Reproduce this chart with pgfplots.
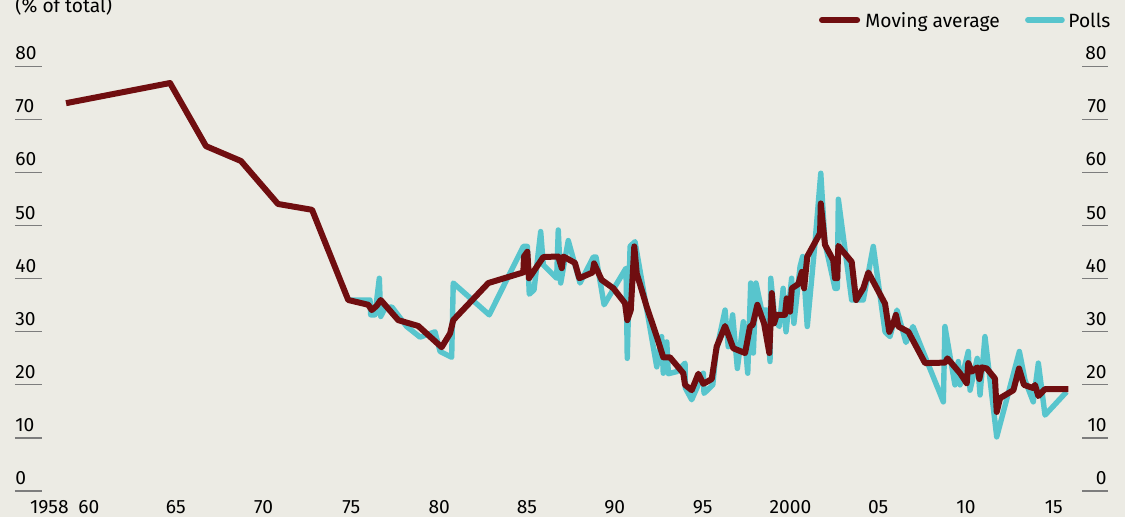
\documentclass[border=0pt]{standalone}
\usepackage{fontspec}
\setmainfont{Fira Sans}
\usepackage{pgfplots}
\pgfplotsset{compat=1.18}
\definecolor{bg}{RGB}{236,235,228}
\definecolor{ma}{RGB}{112,14,16}
\definecolor{polls}{RGB}{88,197,205}
\definecolor{tickgray}{RGB}{125,125,125}
\begin{document}
\begin{tikzpicture}[font=\fontsize{9.6}{11}\selectfont]
\begin{axis}[scale only axis, width=562.5pt, height=258.5pt,
  xmin=1954.989, xmax=2019.055, ymin=-4.901, ymax=92.55,
  axis lines=none, clip=false]
\fill[bg] (rel axis cs:0,0) rectangle (rel axis cs:1,1);
\pgfplotsinvokeforeach{0,10,20,30,40,50,60,70,80}{
  \draw[tickgray, line width=0.6pt] (axis cs:1955.84,#1) -- (axis cs:1957.38,#1);
  \draw[tickgray, line width=0.6pt] (axis cs:2016.61,#1) -- (axis cs:2018.09,#1);
  \node[anchor=base west, inner sep=0pt, yshift=3.35pt] at (axis cs:1955.84,#1) {#1};
  \node[anchor=base east, inner sep=0pt, yshift=3.35pt] at (axis cs:2018.03,#1) {#1};
}
\node[anchor=base, inner sep=0pt] at (axis cs:1957.80,-4.15) {1958};
\node[anchor=base, inner sep=0pt] at (axis cs:1960.05,-4.15) {60};
\node[anchor=base, inner sep=0pt] at (axis cs:1965,-4.15) {65};
\node[anchor=base, inner sep=0pt] at (axis cs:1970,-4.15) {70};
\node[anchor=base, inner sep=0pt] at (axis cs:1975,-4.15) {75};
\node[anchor=base, inner sep=0pt] at (axis cs:1980,-4.15) {80};
\node[anchor=base, inner sep=0pt] at (axis cs:1985,-4.15) {85};
\node[anchor=base, inner sep=0pt] at (axis cs:1990,-4.15) {90};
\node[anchor=base, inner sep=0pt] at (axis cs:1995,-4.15) {95};
\node[anchor=base, inner sep=0pt] at (axis cs:2000,-4.15) {2000};
\node[anchor=base, inner sep=0pt] at (axis cs:2005,-4.15) {05};
\node[anchor=base, inner sep=0pt] at (axis cs:2010,-4.15) {10};
\node[anchor=base, inner sep=0pt] at (axis cs:2015,-4.15) {15};
\node[anchor=base west, inner sep=0pt] at (axis cs:1955.84,90.1) {(\% of total)};
% legend
\draw[ma, line width=3pt, line cap=round] (axis cs:2001.80,88.78) -- (axis cs:2003.80,88.78);
\node[anchor=base west, inner sep=0pt] at (axis cs:2004.25,87.41) {Moving average};
\draw[polls, line width=2.7pt, line cap=round] (axis cs:2013.52,88.78) -- (axis cs:2015.47,88.78);
\node[anchor=base west, inner sep=0pt] at (axis cs:2015.81,87.41) {Polls};

\addplot[polls, line width=2.7pt, line join=round] coordinates {
(1974.82,36.0) (1976.06,36.0) (1976.10,33.2) (1976.34,33.2) (1976.59,40.1)
(1976.67,32.9) (1976.91,34.4) (1977.30,34.7) (1978.15,31.0) (1978.91,29.0)
(1979.76,30.0) (1980.05,26.3) (1980.71,25.2) (1980.80,39.2) (1982.85,33.2)
(1984.79,46.1) (1985.02,46.1) (1985.13,37.1) (1985.40,37.9) (1985.78,48.9)
(1985.93,42.6) (1986.69,40.1) (1986.78,49.2) (1986.92,39.2) (1987.35,47.2)
(1988.02,39.2) (1988.78,44.1) (1988.93,44.1) (1989.39,35.1) (1990.64,42.0)
(1990.71,25.0) (1990.87,46.1) (1991.15,47.0) (1992.39,23.4) (1992.67,29.1)
(1992.76,22.2) (1992.96,28.1) (1993.05,22.1) (1993.53,22.5) (1994.00,24.1)
(1994.02,19.4) (1994.38,17.2) (1995.04,22.2) (1995.08,18.4) (1995.58,20.0)
(1995.76,26.0) (1996.28,34.1) (1996.46,27.2) (1996.71,33.2) (1996.98,23.1)
(1997.32,31.9) (1997.57,22.2) (1997.74,39.2) (1997.89,26.0) (1998.04,39.2)
(1998.36,34.1) (1998.65,34.1) (1998.84,24.4) (1998.88,40.1) (1999.12,32.2)
(1999.37,31.0) (1999.59,38.2) (1999.75,30.0) (2000.07,40.1) (2000.20,31.6)
(2000.55,42.3) (2000.70,44.2) (2000.96,31.0) (2001.40,46.7) (2001.73,59.9)
(2001.97,46.7) (2002.54,38.2) (2002.67,38.2) (2002.73,55.0) (2003.49,36.0)
(2004.15,36.0) (2004.72,46.1) (2005.39,30.0) (2005.67,29.1) (2006.07,34.1)
(2006.58,28.0) (2006.98,31.0) (2008.71,16.8) (2008.80,31.0) (2009.37,20.0)
(2009.56,24.4) (2009.66,20.0) (2010.13,26.3) (2010.23,19.0) (2010.64,25.0)
(2010.80,18.1) (2011.08,29.1) (2011.75,10.2) (2013.04,26.3) (2013.36,20.9)
(2013.83,16.8) (2014.12,24.1) (2014.50,14.3) (2015.73,18.7)
};
\addplot[ma, line width=3pt, line join=round] coordinates {
(1958.75,73.1) (1964.67,76.9) (1966.72,65.0) (1968.71,62.2) (1970.82,54.1)
(1972.76,53.0) (1974.82,36.0) (1975.96,35.1) (1976.16,34.1) (1976.44,34.9)
(1976.67,36.0) (1977.67,32.2) (1978.81,31.1) (1980.14,27.1) (1980.62,29.7)
(1980.80,32.2) (1982.80,39.2) (1984.79,41.2) (1984.83,44.2) (1985.02,45.1)
(1985.11,40.1) (1985.93,44.1) (1986.78,44.2) (1986.98,42.0) (1987.07,44.2)
(1987.73,43.0) (1987.98,40.1) (1988.74,41.2) (1988.82,42.9) (1989.25,39.8)
(1989.92,38.2) (1990.58,35.4) (1990.71,32.2) (1990.91,34.1) (1991.11,46.1)
(1991.25,41.0) (1991.82,34.7) (1992.39,29.1) (1992.76,25.2) (1993.14,25.2)
(1993.90,22.2) (1994.00,20.0) (1994.38,19.0) (1994.76,22.1) (1995.04,20.2)
(1995.52,21.1) (1995.80,27.2) (1996.28,31.1) (1996.75,26.9) (1997.42,26.0)
(1997.70,31.0) (1997.85,31.3) (1998.12,35.1) (1998.50,31.6) (1998.80,26.0)
(1998.94,37.3) (1999.07,31.6) (1999.22,33.2) (1999.69,33.2) (1999.79,36.3)
(1999.98,33.8) (2000.08,38.2) (2000.45,39.0) (2000.65,41.3) (2000.78,38.2)
(2000.96,44.2) (2001.69,48.6) (2001.73,54.2) (2001.97,46.4) (2002.44,43.5)
(2002.54,40.1) (2002.67,40.1) (2002.73,46.2) (2003.49,43.2) (2003.74,36.0)
(2004.15,38.2) (2004.44,41.2) (2005.39,35.3) (2005.63,30.0) (2005.86,31.6)
(2006.01,33.2) (2006.15,31.0) (2006.72,30.0) (2007.67,24.1) (2008.81,24.2)
(2008.94,25.0) (2009.66,22.2) (2010.04,20.3) (2010.13,24.1) (2010.33,22.5)
(2010.64,23.3) (2010.76,21.1) (2010.89,23.3) (2011.18,23.1) (2011.65,21.2)
(2011.75,14.9) (2011.94,17.5) (2012.70,19.0) (2013.02,23.1) (2013.30,20.0)
(2013.83,19.4) (2013.93,20.0) (2014.12,17.9) (2014.50,19.2) (2015.83,19.2)
};
\end{axis}
\pgfresetboundingbox
\path[use as bounding box] (current axis.south west) rectangle (current axis.north east);
\end{tikzpicture}
\end{document}
